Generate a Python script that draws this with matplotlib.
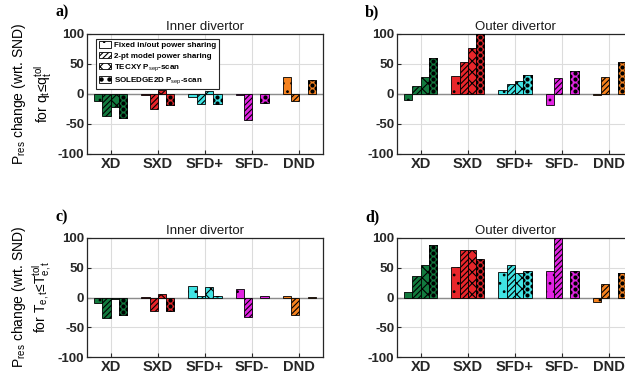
import numpy as np
import matplotlib.pyplot as plt
from matplotlib.patches import Patch
from matplotlib.lines import Line2D

plt.rcParams['font.family'] = ['Liberation Sans', 'DejaVu Sans']
plt.rcParams['mathtext.fontset'] = 'custom'
plt.rcParams['mathtext.rm'] = 'Liberation Sans'
plt.rcParams['mathtext.it'] = 'Liberation Sans'
plt.rcParams['mathtext.bf'] = 'Liberation Sans:bold'
plt.rcParams['hatch.linewidth'] = 0.8

groups = ['XD', 'SXD', 'SFD+', 'SFD-', 'DND']
series = ['Fixed in/out power sharing', '2-pt model power sharing',
          r'TECXY P$_{\rm sep}$-scan', r'SOLEDGE2D P$_{\rm sep}$-scan']
colors = ['#127a3e', '#e8262b', '#40e2e2', '#e224e2', '#f5821f']
hatches = ['..', '//////', 'xxx', None]

# a) inner divertor, q_t <= q_t^tol
inner_q_fixed = [-12, -2, -5, -2, 28]
inner_q_2pt = [-37, -25, -17, -44, -12]
inner_q_tecxy = [-22, 6, 5, np.nan, np.nan]
inner_q_soledge = [-40, -19, -17, -15, 23]

# b) outer divertor, q_t <= q_t^tol
outer_q_fixed = [-10, 30, 6, -19, -2]
outer_q_2pt = [14, 53, 16, 26, 29]
outer_q_tecxy = [28, 76, 21, np.nan, np.nan]
outer_q_soledge = [60, 100, 31, 38, 54]

# c) inner divertor, T_e,t <= T_e,t^tol
inner_t_fixed = [-9, 1, 20, 15, 3]
inner_t_2pt = [-35, -22, 3, -32, -29]
inner_t_tecxy = [-2, 6, 17, np.nan, np.nan]
inner_t_soledge = [-29, -22, 3, 2, 1]

# d) outer divertor, T_e,t <= T_e,t^tol
outer_t_fixed = [9, 52, 43, 45, -7]
outer_t_2pt = [36, 79, 55, 100, 22]
outer_t_tecxy = [54, 79, 41, np.nan, np.nan]
outer_t_soledge = [89, 65, 45, 45, 41]

W, H = 625, 382
fig = plt.figure(figsize=(W / 100, H / 100), dpi=100)


def box(left, top, right, bottom):
    return [left / W, 1 - bottom / H, (right - left) / W, (bottom - top) / H]


x = np.arange(1, len(groups) + 1)
width = 0.175
offsets = (np.arange(4) - 1.5) * width
dot_step = 10.0


def dot_fill(ax, bars):
    # big black dots pattern for the SOLEDGE2D bars, clipped to each bar
    for b in bars:
        h = b.get_height()
        if not np.isfinite(h) or abs(h) < 3:
            continue
        x0, w = b.get_x(), b.get_width()
        sgn = 1 if h > 0 else -1
        xs, ys = [], []
        k = 0
        y = dot_step / 2
        while y < abs(h) + dot_step / 2:
            if k % 2 == 0:
                xs.append(x0 + w / 2)
                ys.append(sgn * y)
            else:
                xs += [x0, x0 + w]
                ys += [sgn * y, sgn * y]
            y += dot_step / 2
            k += 1
        sc = ax.scatter(xs, ys, s=9, c='black', linewidths=0, zorder=4)
        sc.set_clip_path(b)


def panel(rect, values, title, letter, letter_xy):
    ax = fig.add_axes(rect)
    for i, vals in enumerate(values):
        bars = ax.bar(x + offsets[i], vals, width, color=colors,
                      edgecolor='black', linewidth=0.6,
                      hatch=hatches[i], zorder=3)
        if hatches[i] is None:
            dot_fill(ax, bars)
    ax.axhline(0, color='#8c8c8c', lw=1.0, zorder=2)
    ax.set_xlim(0.5, 5.5)
    ax.set_ylim(-100, 100)
    ax.set_xticks(x)
    ax.set_xticklabels(groups, fontsize=10.5, fontweight='bold')
    ax.set_yticks([-100, -50, 0, 50, 100])
    ax.set_yticklabels(['-100', '-50', '0', '50', '100'], fontsize=9.5,
                       fontweight='bold')
    ax.tick_params(direction='in', length=3, width=0.8, colors='#262626',
                   pad=2)
    ax.grid(True, color='#dcdcdc', lw=0.8, zorder=0)
    ax.set_axisbelow(True)
    for s in ax.spines.values():
        s.set_color('#262626')
        s.set_linewidth(0.9)
    ax.set_title(title, fontsize=9.5, pad=3, color='#1a1a1a')
    fig.text(letter_xy[0] / W, 1 - letter_xy[1] / H, letter,
             family='Liberation Serif', fontweight='bold', fontsize=11.5,
             ha='left', va='baseline')
    return ax


ax_a = panel(box(87, 34, 323, 154),
             [inner_q_fixed, inner_q_2pt, inner_q_tecxy, inner_q_soledge],
             'Inner divertor', 'a)', (55, 16))
ax_b = panel(box(397, 34, 633, 154),
             [outer_q_fixed, outer_q_2pt, outer_q_tecxy, outer_q_soledge],
             'Outer divertor', 'b)', (365, 16))
ax_c = panel(box(87, 238, 323, 357),
             [inner_t_fixed, inner_t_2pt, inner_t_tecxy, inner_t_soledge],
             'Inner divertor', 'c)', (55, 221))
ax_d = panel(box(397, 238, 633, 357),
             [outer_t_fixed, outer_t_2pt, outer_t_tecxy, outer_t_soledge],
             'Outer divertor', 'd)', (365, 221))

fig.text(32 / W, 1 - 94 / H,
         'P$_{\\rm res}$ change (wrt. SND)\nfor q$_{\\rm t}$≤q$_{\\rm t}^{\\rm tol}$',
         rotation=90, ha='center', va='center', multialignment='center',
         fontsize=10)
fig.text(32 / W, 1 - 297 / H,
         'P$_{\\rm res}$ change (wrt. SND)\nfor T$_{\\rm e,t}$≤T$_{\\rm e,t}^{\\rm tol}$',
         rotation=90, ha='center', va='center', multialignment='center',
         fontsize=10)

handles = []
for i in range(4):
    p = Patch(facecolor='white', edgecolor='black', linewidth=0.6,
              hatch=hatches[i])
    if hatches[i] is None:
        dots = Line2D([], [], ls='none', marker='o', ms=2.2, color='black')
        handles.append((p, dots))
    else:
        handles.append(p)
leg = ax_a.legend(handles=handles, labels=series, loc='upper left',
                  bbox_to_anchor=(0.04, 0.96),
                  prop={'weight': 'bold', 'size': 5.8},
                  handlelength=1.5, handleheight=0.9, labelspacing=0.3,
                  handletextpad=0.4, borderpad=0.3, borderaxespad=0,
                  numpoints=2, fancybox=False, framealpha=1,
                  edgecolor='#262626')
leg.get_frame().set_linewidth(0.8)
leg.set_zorder(10)

fig.savefig('out.png', dpi=100)
